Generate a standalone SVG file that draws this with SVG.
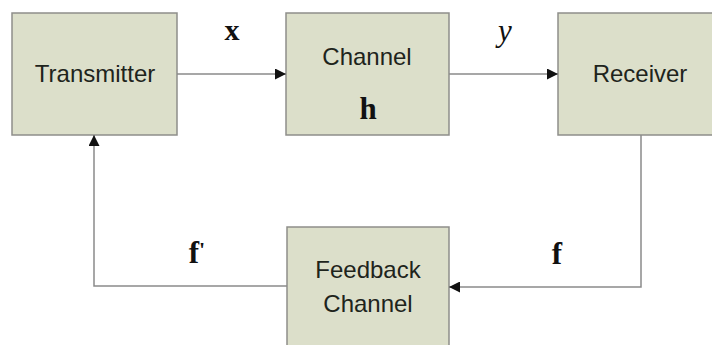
<svg xmlns="http://www.w3.org/2000/svg" width="712" height="345" viewBox="0 0 712 345">
<style>
.box{fill:#dcdfca;stroke:#8e8e8a;stroke-width:1.5}
.lbl{font-family:"Liberation Sans",Arial,sans-serif;font-size:24px;fill:#1e241c;text-anchor:middle}
.math{font-family:"Liberation Serif","Times New Roman",serif;fill:#111;text-anchor:middle}
.conn{fill:none;stroke:#8a8a8a;stroke-width:1.5}
</style>
<defs>
<marker id="ah" viewBox="0 0 10 10" refX="10" refY="5" markerWidth="12" markerHeight="11" markerUnits="userSpaceOnUse" orient="auto"><path d="M0,0 L10,5 L0,10 z" fill="#111"/></marker>
</defs>
<rect width="712" height="345" fill="#fff"/>
<g id="transmitter"><rect class="box" x="12" y="13" width="165" height="122"/><text class="lbl" x="95" y="82">Transmitter</text></g>
<g id="channel"><rect class="box" x="286" y="13" width="163" height="122"/><text class="lbl" x="367" y="65">Channel</text><text class="math" x="368" y="119" font-size="31" font-weight="bold">h</text></g>
<g id="receiver"><rect class="box" x="558" y="13" width="170" height="122"/><text class="lbl" x="640" y="82">Receiver</text></g>
<g id="feedback"><rect class="box" x="287" y="227" width="162" height="130"/><text class="lbl" x="368" y="278">Feedback</text><text class="lbl" x="368" y="312">Channel</text></g>
<g id="connectors">
<line class="conn" x1="177" y1="74" x2="286" y2="74" marker-end="url(#ah)"/>
<line class="conn" x1="449" y1="74" x2="558" y2="74" marker-end="url(#ah)"/>
<polyline class="conn" points="641,135 641,287 449,287" marker-end="url(#ah)"/>
<polyline class="conn" points="287,286 94,286 94,135" marker-end="url(#ah)"/>
</g>
<g id="labels">
<text class="math" x="232" y="40" font-size="30" font-weight="bold">x</text>
<text class="math" x="505" y="41" font-size="31" font-style="italic">y</text>
<text class="math" x="197" y="263" font-size="31" font-weight="bold">f<tspan font-size="22" dy="-6">'</tspan></text>
<text class="math" x="557" y="264" font-size="31" font-weight="bold">f</text>
</g>
</svg>
